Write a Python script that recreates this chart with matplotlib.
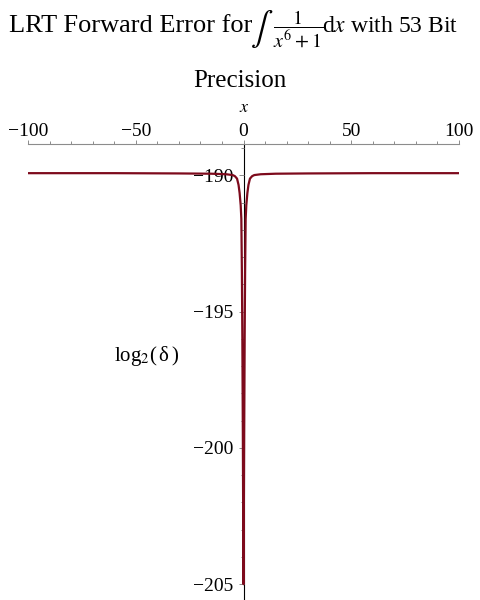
import numpy as np
import matplotlib.pyplot as plt
from matplotlib.ticker import MultipleLocator, FuncFormatter

plt.rcParams['font.family'] = ['Liberation Serif', 'DejaVu Serif']
plt.rcParams['mathtext.fontset'] = 'stix'

# forward error (log2), symmetric around x = 0
x_right = [0.0, 0.05, 0.15, 0.3, 0.53, 0.75, 1.0, 1.3, 1.8, 2.3, 3.0, 4.0, 5.0, 8.0, 15.0, 30.0, 60.0, 100.0]
err_right = [-205.0, -204.3, -202.5, -199.5, -196.0, -193.5, -191.6, -191.1, -190.65, -190.35,
             -190.12, -190.03, -189.99, -189.96, -189.94, -189.93, -189.92, -189.92]

x_vals = [-v for v in x_right[:0:-1]] + x_right
err_vals = err_right[:0:-1] + err_right

x_ticks = [-100, -50, 0, 50, 100]
y_ticks = [-190, -195, -200, -205]


def maple_fmt(v, pos):
    if v < 0:
        return f'\u2212{abs(v):.0f}'
    return f'{v:.0f}'


fig = plt.figure(figsize=(4.8, 6.0), dpi=100)
ax = fig.add_axes([28 / 480, 0.0, 431 / 480, 456 / 600])

ax.plot(x_vals, err_vals, color='#7d0a1c', lw=1.6, zorder=2)

ax.set_xlim(-100, 100)
ax.set_ylim(-205.58, -188.85)

# maple style axes: x axis on top, y axis through x = 0
for s in ['bottom', 'right']:
    ax.spines[s].set_visible(False)
ax.spines['top'].set_color('#8c8c8c')
ax.spines['top'].set_linewidth(0.8)
ax.spines['left'].set_position(('data', 0))
ax.spines['left'].set_color('black')
ax.spines['left'].set_linewidth(0.8)
ax.spines['left'].set_zorder(1.5)

ax.xaxis.tick_top()
ax.set_xticks(x_ticks)
ax.xaxis.set_minor_locator(MultipleLocator(10))
ax.set_yticks(y_ticks)
ax.yaxis.set_minor_locator(MultipleLocator(1))
ax.xaxis.set_major_formatter(FuncFormatter(maple_fmt))
ax.yaxis.set_major_formatter(FuncFormatter(maple_fmt))

ax.tick_params(axis='x', which='major', direction='out', length=3, width=0.7, color='#8c8c8c',
               labelsize=14, pad=0)
ax.tick_params(axis='x', which='minor', direction='out', length=2, width=0.7, color='#8c8c8c')
ax.tick_params(axis='y', which='major', direction='out', length=3.5, width=0.7, color='#8c8c8c',
               labelsize=14, pad=4)
ax.tick_params(axis='y', which='minor', direction='out', length=2, width=0.7, color='#8c8c8c')

# title, first line in pieces so the integral sign can be tall
base = 1 - 32 / 600
fig.text(252 / 480, base, 'LRT Forward Error for', ha='right', va='baseline', fontsize=19)
fig.text(262 / 480, 1 - 29 / 600, r'$\int$', ha='center', va='center', fontsize=24)
fig.text(298 / 480, 1 - 29 / 600, r'$\dfrac{1}{x^{6}+1}$', ha='center', va='center', fontsize=14.5)
fig.text(458 / 480, base, r'd$x$ with 53 Bit', ha='right', va='baseline', fontsize=17)
fig.text(0.5, 1 - 81 / 600, 'Precision', ha='center', va='center', fontsize=18)
fig.text(244 / 480, 1 - 108 / 600, r'$x$', ha='center', va='center', fontsize=13)
fig.text(147 / 480, 1 - 356 / 600, 'log$_{2}$($\\,$δ$\\,$)',
         ha='center', va='center', fontsize=15)

fig.savefig('out.png', dpi=100)
